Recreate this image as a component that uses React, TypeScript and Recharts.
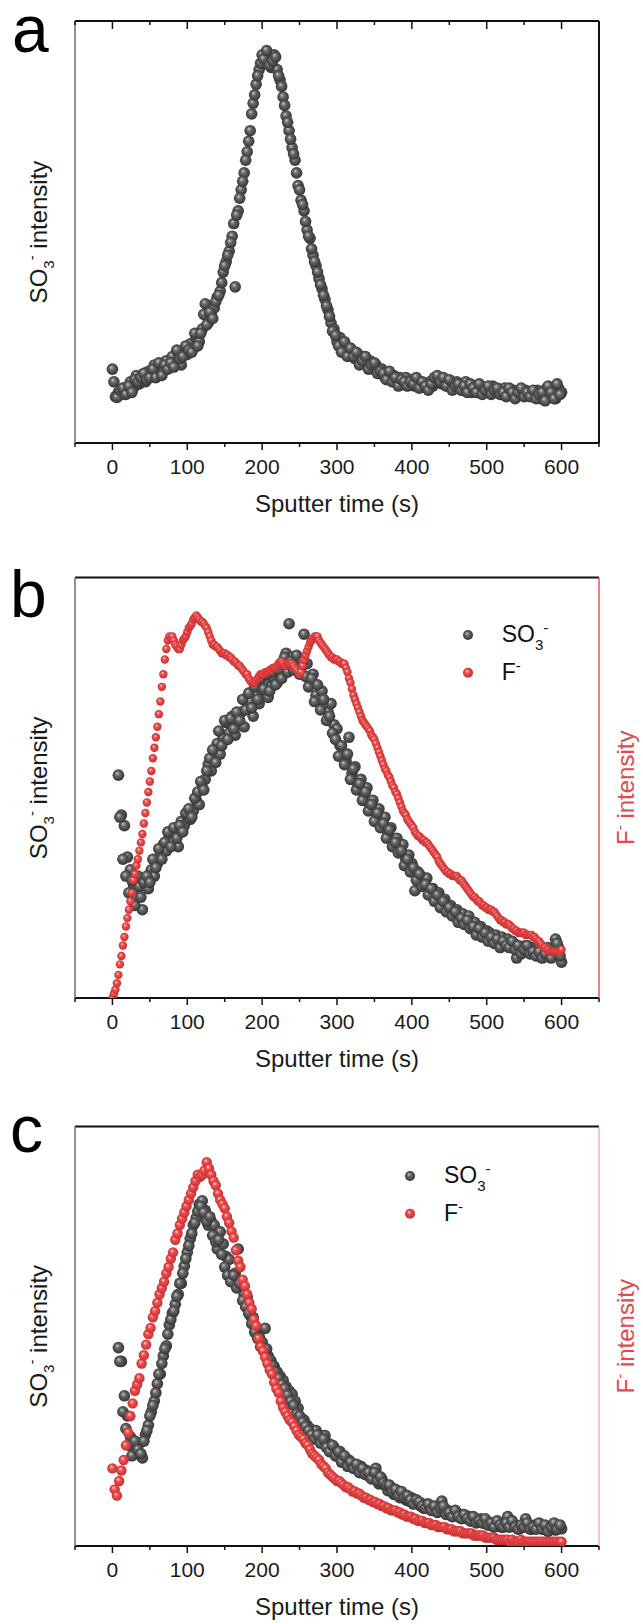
import React from 'react';
import { ScatterChart, Scatter, XAxis, YAxis, Legend } from 'recharts';

const FONT = '"Liberation Sans", Arial, Helvetica, sans-serif';
const PAGE_W = 643;
const PLOT_LEFT = 75;
const PLOT_RIGHT = 599;

const xDomain: [number, number] = [-50, 650];
const xTicks = [-50, 0, 50, 100, 150, 200, 250, 300, 350, 400, 450, 500, 550, 600, 650];
const xMajorTicks = [0, 100, 200, 300, 400, 500, 600];
const yDomain: [number, number] = [0, 100];

// ---------- Panel a : SO3- (pass 1: start 0 s, every 4 s) ----------
const aSO3Start = 0;
const aSO3Step = 4;
const aSO3 = [
  17.5, 11.0, 12.0, 11.5, 13.0, 12.5, 14.5, 13.0, 16.0, 14.0,
  15.5, 14.5, 17.0, 16.0, 18.5, 16.5, 18.0, 17.0, 19.5, 18.0,
  20.5, 19.0, 21.5, 18.5, 22.0, 21.0, 23.5, 22.5, 25.0, 24.0,
  27.0, 33.0, 28.5, 30.5, 32.0, 34.5, 36.0, 40.5, 43.0, 45.5,
  49.0, 37.0, 55.0, 60.0, 64.0, 69.0, 74.0, 80.5, 85.0, 88.5,
  92.0, 90.0, 91.0, 89.0, 92.0, 88.5, 86.0, 82.0, 77.5, 74.0,
  70.0, 67.0, 61.0, 57.5, 55.0, 50.5, 48.5, 44.5, 42.0, 39.0,
  36.5, 34.0, 31.5, 28.5, 27.0, 24.0, 25.0, 22.0, 23.0, 21.0,
  22.0, 20.0, 21.0, 19.0, 20.5, 18.5, 19.5, 17.5, 18.5, 16.5,
  17.5, 15.5, 16.5, 15.0, 16.0, 14.5, 15.5, 14.0, 15.5, 14.0,
  15.0, 13.5, 14.5, 13.5, 14.0, 13.0, 14.5, 13.5, 15.0, 15.5,
  14.0, 15.0, 13.5, 14.0, 13.0, 14.5, 13.5, 12.5, 14.5, 13.0,
  12.0, 13.5, 12.5, 13.5, 12.0, 13.0, 12.0, 13.5, 12.0, 12.5,
  11.5, 13.0, 12.5, 11.5, 12.5, 11.0, 12.0, 11.5, 12.5, 11.5,
  12.0, 11.0, 12.5, 10.5, 12.0, 13.0, 11.0, 12.5, 10.5, 13.0,
  12.0,
];
// pass 2: start 2 s, every 4 s
const aSO3bStart = 2;
const aSO3b = [
  14.5, 10.8, 12.5, 13.0, 11.5, 13.5, 12.0, 15.0, 14.5, 15.5,
  16.5, 15.0, 15.5, 17.5, 15.5, 19.0, 16.0, 18.5, 17.5, 19.0,
  18.0, 22.0, 20.0, 20.5, 23.0, 22.0, 21.5, 26.0, 23.0, 26.0,
  30.5, 28.0, 31.0, 29.5, 33.5, 35.0, 38.0, 42.0, 44.5, 47.5,
  52.0, 54.0, 58.0, 62.0, 67.0, 71.5, 78.0, 82.5, 87.0, 90.0,
  91.0, 93.0, 89.5, 90.5, 91.5, 87.0, 84.5, 80.0, 76.0, 72.0,
  68.5, 64.0, 60.0, 56.5, 52.5, 49.0, 46.0, 43.0, 40.5, 37.5,
  35.0, 32.5, 30.0, 26.5, 25.5, 23.0, 21.5, 24.0, 20.5, 22.5,
  20.5, 21.5, 18.5, 19.5, 20.5, 17.5, 18.5, 19.0, 16.5, 17.0,
  16.5, 15.0, 17.0, 14.5, 15.5, 13.5, 15.0, 14.5, 13.5, 14.5,
  14.0, 15.5, 13.0, 14.5, 13.5, 12.5, 14.0, 15.5, 16.0, 14.5,
  15.5, 13.5, 15.0, 12.5, 13.5, 14.0, 12.5, 13.5, 12.0, 14.0,
  13.0, 12.0, 14.0, 11.5, 12.5, 13.5, 11.5, 12.5, 13.0, 11.5,
  12.0, 11.0, 13.0, 12.0, 10.5, 12.0, 13.0, 11.0, 12.0, 11.0,
  12.5, 10.5, 11.5, 12.0, 10.0, 13.5, 12.0, 10.5, 14.0, 11.5,
];

// ---------- Panel b : SO3- (pass 1: start 8 s, every 4 s) ----------
const bSO3Start = 8;
const bSO3Step = 4;
const bSO3 = [
  53, 43.5, 41, 33.5, 30.5, 27, 24, 26.5, 21, 28,
  26, 30.5, 29, 32, 34, 36.5, 35, 38.5, 37, 39,
  36, 42, 41, 43.5, 42.5, 44.5, 47, 46, 50, 52,
  55.5, 54, 57, 60.5, 58, 62, 65.5, 63, 67, 62.5,
  65, 68, 64.5, 69, 70.5, 67, 72, 70, 73, 75,
  71.5, 74, 76, 75, 77, 79.5, 82, 89, 81, 79,
  80.5, 78.5, 86.5, 79.5, 75.5, 77, 72, 71, 73, 69.5,
  68, 70, 65, 64, 60, 58, 56.5, 62, 53.5, 55,
  50.5, 52, 48.5, 50, 45.5, 47, 44, 45, 41.5, 43,
  39, 40.5, 37.5, 38, 35.5, 36.5, 33, 34, 32, 25.5,
  30, 29, 27.5, 28.5, 25.5, 26, 24, 25, 22.5, 23.5,
  21, 22, 20.5, 21, 19, 20, 18.5, 19.5, 17, 18,
  16, 17, 15, 16, 15.5, 14.5, 15, 13.5, 14.5, 13,
  14, 12.5, 13, 9.5, 12, 11.5, 12.5, 11, 12, 10.5,
  11.5, 10, 11, 10.5, 11.5, 10, 14, 12, 8.5,
];
// pass 2: start 10 s, every 4 s
const bSO3bStart = 10;
const bSO3b = [
  43, 33, 29, 25, 28, 22, 29, 24, 27.5, 29,
  27.5, 33, 31, 35.5, 33, 37, 39.5, 36, 40.5, 38,
  41, 39.5, 44, 45, 43, 47.5, 49, 51.5, 49.5, 54,
  57, 59, 56, 63.5, 60, 66, 61.5, 66.5, 64, 68,
  66, 71, 68.5, 72.5, 69, 74, 71, 76, 73.5, 77,
  73, 77.5, 74.5, 78, 76, 81, 77.5, 80, 78, 81.5,
  77, 80, 76.5, 74, 76, 70.5, 74.5, 68.5, 71, 66,
  67, 63, 61.5, 57.5, 60, 55.5, 58, 52, 54.5, 49.5,
  51, 47, 49, 44.5, 46, 42, 44, 40.5, 41.5, 38,
  40, 36, 37, 34.5, 35, 31.5, 33, 30, 31, 28,
  29.5, 26.5, 27, 24.5, 26, 23, 24.5, 21.5, 23, 20.5,
  21.5, 19.5, 20.5, 18, 19, 17.5, 18.5, 16.5, 17, 15,
  16.5, 14.5, 15.5, 13.5, 14.5, 13, 14, 12, 13.5, 12.5,
  12, 13.5, 11.5, 12.5, 10.5, 11.5, 12.5, 10.5, 11, 10,
  11, 9.5, 10.5, 12, 9.5, 11.5, 13, 10,
];

// ---------- Panel b : F- (start 0 s, every 2 s) ----------
const bFStart = 0;
const bFStep = 2;
const bF = [
  0, 1, 2, 3.5, 5.5, 8, 10, 12.5, 14.5, 17,
  19, 21, 23, 25, 28, 29.5, 31.5, 33, 35, 37,
  39, 41.5, 44, 46.5, 49, 51.5, 54, 57, 59.5, 62,
  64.5, 67.5, 70.5, 74, 77, 80.5, 83, 85, 86, 85.5,
  86, 85, 84, 83.5, 83, 83, 84, 85, 85.5, 86,
  87, 88, 88.5, 89, 90, 90.5, 91, 90.5, 90, 89.5,
  89.5, 89, 88.5, 88, 87, 86, 85, 84, 84, 83.5,
  83.5, 83, 82.5, 82, 82, 82, 81.5, 81.5, 81, 81,
  80.5, 80, 80, 79.5, 79, 79, 78.5, 78, 77.5, 77,
  77, 76, 75.5, 75, 75, 75, 75.5, 76, 76.5, 77,
  77, 77, 77.5, 77.5, 77.5, 78, 78, 78.5, 78.5, 78.5,
  79, 79.5, 80, 80, 79.5, 79, 79, 79.5, 79.5, 79.5,
  79.5, 79, 78.5, 78, 77.5, 77, 77.5, 79, 80.5, 81.5,
  82.5, 83.5, 84.5, 85, 85.5, 86, 86, 86, 85, 84.5,
  84, 83.5, 83, 82.5, 82, 81.5, 81, 81, 80.5, 80.5,
  80.5, 80, 80, 79.5, 79.5, 79.5, 78.5, 77.5, 76, 75,
  73.5, 72, 71, 70, 69, 68, 67, 66, 65.5, 65,
  64.5, 64, 63.5, 62.5, 62, 61.5, 60.5, 59.5, 58.5, 57.5,
  56.5, 55.5, 54.5, 54, 53, 52.5, 51.5, 50.5, 50, 49,
  48.5, 47.5, 46.5, 45.5, 44.5, 44, 43.5, 42.5, 42, 41.5,
  41, 40.5, 39.5, 39, 38.5, 38.5, 38, 37.5, 37.5, 37,
  37, 36.5, 36, 35.5, 35, 34.5, 34, 33.5, 32.5, 32,
  31.5, 31, 30.5, 30, 30, 29.5, 29.5, 29, 29, 29,
  29, 28.5, 28, 28, 27.5, 27, 26.5, 26, 25.5, 25,
  24.5, 24, 24, 23.5, 23, 23, 22.5, 22, 22, 21.5,
  21.5, 21, 21, 21, 20.5, 20.5, 20, 19.5, 19, 18.5,
  18.5, 18, 18, 17.5, 17.5, 17.5, 17, 16.5, 16.5, 16,
  16, 15.5, 15.5, 15.5, 15.5, 15.5, 15, 15, 15, 15,
  15, 14.5, 14.5, 14, 13.5, 13.5, 13, 12.5, 12, 12,
  11.5, 11.5, 11, 11, 11, 11, 11, 11, 11, 11,
  11.5,
];

// ---------- Panel c : SO3- (pass 1: start 8 s, every 4 s) ----------
const cSO3Start = 8;
const cSO3Step = 4;
const cSO3 = [
  47.3, 44, 35.8, 31, 26, 24, 22, 24.5, 21, 26.5,
  28.8, 32, 34.6, 38.7, 41, 45.3, 47.7, 52.7, 55.5, 57.6,
  60, 62.6, 66.7, 70, 73.3, 76.5, 78.2, 81.5, 82.3, 80,
  76.5, 77.4, 76.5, 70.8, 74.9, 72, 69, 68.3, 64.2, 65,
  70.8, 62.6, 60, 59.3, 55, 54.5, 51.9, 50, 48.6, 51.9,
  45.3, 44, 42.8, 41.5, 40.5, 39.5, 38, 37, 36.2, 34.5,
  32.9, 30.5, 30, 28.8, 28, 27.2, 27.5, 26.5, 25.5, 26.3,
  24.5, 23, 23.5, 21.4, 22.5, 20.5, 19.8, 20.5, 18.9, 19.5,
  18.1, 19, 17.3, 18, 16.5, 17, 18.5, 14.8, 16, 14.5,
  13.2, 14, 12.3, 13, 11.5, 12.5, 11, 10.7, 11.5, 10.5,
  10, 9.5, 9, 10, 9, 8.5, 9, 8.2, 10.7, 8,
  8.5, 7.5, 7.4, 8, 7, 7.5, 6.6, 7, 6, 6.5,
  5.8, 6.5, 5.5, 6, 5, 5.5, 4.9, 5.5, 4.5, 5,
  7, 4.9, 5, 4.5, 4.1, 5, 6.5, 4.5, 4, 5,
  4.5, 4.9, 4, 4.5, 4.1, 4.5, 3.8, 4.5, 4.1,
];
// pass 2: start 10 s, every 4 s
const cSO3bStart = 10;
const cSO3b = [
  44, 32, 28, 24, 21.5, 25, 23, 22, 25, 27.5,
  31, 33.5, 36.5, 41, 43.5, 47, 50.5, 54, 56, 59.5,
  62.6, 65, 68.5, 71.6, 74.5, 77, 79.8, 81, 79.5, 77.4,
  78.5, 74, 72.5, 73, 69.5, 66.5, 64.5, 63, 64.5, 61.5,
  62.6, 58.5, 57, 55.5, 53, 51, 49.5, 47.5, 46.5, 47,
  44.5, 43, 41.5, 40, 38.5, 37.5, 36, 34.5, 33.5, 31.5,
  31, 29.5, 28.5, 27.5, 26.5, 25.5, 26.5, 24.5, 25.5, 23.5,
  22.5, 24, 21.5, 22.5, 20, 21.5, 19, 20, 18.5, 19.5,
  17.5, 18.5, 17, 17.5, 16, 17.5, 15.5, 16.5, 15, 14.5,
  14.5, 13, 13.5, 12, 13, 11.5, 12, 11, 10, 11,
  10.5, 9.5, 9, 10, 8.5, 9.5, 8, 9, 9.5, 7.5,
  8, 7, 8.5, 7, 6.5, 7.5, 6.5, 6, 7, 5.5,
  6, 5.5, 6.5, 5, 5.5, 4.5, 6, 5, 4.5, 5.5,
  4.5, 6, 4.5, 4, 5, 4.5, 5.5, 4, 4.5, 4,
  5.5, 4, 5, 3.5, 4.5, 5.5, 4, 5,
];

// ---------- Panel c : F- (start 0 s, every 3 s) ----------
const cFStart = 0;
const cFStep = 3;
const cF = [
  18.5, 13.5, 12, 15.5, 18, 20.5, 24, 27, 31, 34,
  37, 38.5, 40, 43.5, 45.5, 48, 50.5, 52, 54.5, 56,
  58, 60, 61.5, 63, 65, 66.5, 68.5, 70, 73, 74.5,
  76.5, 78, 79.5, 81, 82.5, 84, 85.5, 87, 88.5, 88,
  88.5, 89.5, 91.5, 90, 88.5, 87, 86, 84, 82.5, 81.5,
  80.5, 78.5, 77, 75, 73.5, 70.5, 68, 66.5, 63.5, 62,
  60, 58, 56.5, 54, 52.5, 49.5, 47.5, 46.5, 45, 43.5,
  42, 41, 39, 37.5, 36.5, 34.5, 33, 32, 31, 30,
  29.5, 28.5, 27.5, 26.5, 26, 25.5, 24.5, 24, 23, 22,
  21.5, 21, 20.5, 19.5, 19, 18.5, 17.5, 17, 16.5, 16,
  15.5, 15.5, 15, 14.5, 14, 14, 13.5, 13, 13, 12.5,
  12.5, 12, 11.5, 11.5, 11, 11, 10.5, 10.5, 10, 10,
  9.5, 9.5, 9, 9, 8.5, 8.5, 8.5, 8, 8, 7.5,
  7.5, 7, 7, 7, 6.5, 6.5, 6, 6, 6, 5.5,
  5.5, 5.5, 5, 5, 5, 4.5, 4.5, 4.5, 4.5, 4,
  4, 4, 3.5, 3.5, 3.5, 3.5, 3, 3, 3, 3,
  3, 2.5, 2.5, 2.5, 2.5, 2.5, 2, 2, 2, 2,
  2, 1.5, 1.5, 1.5, 1.5, 1.5, 1.5, 1, 1.5, 1,
  1, 1, 1.5, 1, 1, 1, 1, 1, 1, 1,
  1, 1, 1, 1, 1, 1, 1, 1, 1, 1,
  1,
];

type Pt = { t: number; v: number };
const toPoints = (start: number, step: number, values: number[]): Pt[] =>
  values.map((v, i) => ({ t: start + i * step, v }));

const aSO3Pts = [...toPoints(aSO3Start, aSO3Step, aSO3), ...toPoints(aSO3bStart, aSO3Step, aSO3b)];
const bSO3Pts = [...toPoints(bSO3Start, bSO3Step, bSO3), ...toPoints(bSO3bStart, bSO3Step, bSO3b)];
const bFPts = toPoints(bFStart, bFStep, bF);
const cSO3Pts = [...toPoints(cSO3Start, cSO3Step, cSO3), ...toPoints(cSO3bStart, cSO3Step, cSO3b)];
const cFPts = toPoints(cFStart, cFStep, cF);

const GRAY = 'url(#ballGray)';
const RED = 'url(#ballRed)';

const ball = (fill: string, r: number) => (props: any) => {
  const { cx, cy } = props;
  if (cx == null || cy == null || isNaN(cx) || isNaN(cy)) return <g />;
  return <circle cx={cx} cy={cy} r={r} fill={fill} />;
};

const BottomTick = (props: any) => {
  const { x, y, payload } = props;
  const value = payload ? payload.value : 0;
  const major = xMajorTicks.includes(value);
  return (
    <g>
      <line x1={x} x2={x} y1={y} y2={y + (major ? 7 : 4)} stroke="#111" strokeWidth={1.5} />
      {major ? (
        <text x={x} y={y + 31} textAnchor="middle" fontFamily={FONT} fontSize={21} fill="#1a1a1a">
          {value}
        </text>
      ) : null}
    </g>
  );
};

const TopTick = (props: any) => {
  const { x, y, payload } = props;
  const value = payload ? payload.value : 0;
  const major = xMajorTicks.includes(value);
  return <line x1={x} x2={x} y1={y} y2={y + (major ? 8 : 4)} stroke="#111" strokeWidth={1.5} />;
};

type PanelProps = {
  pageTop: number;
  height: number;
  plotTop: number;
  plotBottom: number;
  gray: Pt[];
  grayR: number;
  red?: Pt[];
  redR?: number;
  rightColor: string;
  rightWidth: number;
  topTicks: boolean;
  legend?: { mx: number; my: number; tx: number };
};

const AXIS_THICK = 1; // tiny axis band so recharts renders the axis

function Panel(p: PanelProps) {
  const plotMidY = (p.plotTop + p.plotBottom) / 2;
  const plotMidX = (PLOT_LEFT + PLOT_RIGHT) / 2;
  const xTitle = () => (
    <text x={plotMidX} y={p.plotBottom + 69} textAnchor="middle" fontFamily={FONT} fontSize={24} fill="#1a1a1a">
      Sputter time (s)
    </text>
  );
  const leftTitle = () => (
    <text
      transform={`translate(47, ${plotMidY}) rotate(-90)`}
      textAnchor="middle"
      fontFamily={FONT}
      fontSize={24}
      fill="#1a1a1a"
    >
      SO
      <tspan fontSize={15} dy={7}>3</tspan>
      <tspan fontSize={15} dy={-17}>-</tspan>
      <tspan fontSize={24} dy={10}> intensity</tspan>
    </text>
  );
  const rightTitle = () => (
    <text
      transform={`translate(634, ${plotMidY}) rotate(-90)`}
      textAnchor="middle"
      fontFamily={FONT}
      fontSize={24}
      fill="#e5484d"
    >
      F
      <tspan fontSize={15} dy={-9}>-</tspan>
      <tspan fontSize={24} dy={9}> intensity</tspan>
    </text>
  );
  const lg = p.legend;
  const legendContent = () =>
    lg ? (
      <svg width={180} height={80} style={{ overflow: 'visible', display: 'block' }}>
        <circle cx={12} cy={20} r={5} fill={GRAY} />
        <text x={12 + (lg.tx - lg.mx)} y={27} fontFamily={FONT} fontSize={23} fill="#111">
          SO
          <tspan fontSize={15} dy={8}>3</tspan>
          <tspan fontSize={15} dy={-17.5}>-</tspan>
        </text>
        <circle cx={12} cy={57.7} r={5} fill={RED} />
        <text x={12 + (lg.tx - lg.mx)} y={65.2} fontFamily={FONT} fontSize={23} fill="#111">
          F
          <tspan fontSize={15} dy={-9}>-</tspan>
        </text>
      </svg>
    ) : null;

  return (
    <div style={{ position: 'absolute', left: 0, top: p.pageTop }}>
      <ScatterChart
        width={PAGE_W}
        height={p.height}
        margin={{
          top: p.plotTop - AXIS_THICK,
          bottom: p.height - p.plotBottom - AXIS_THICK,
          left: PLOT_LEFT - AXIS_THICK,
          right: PAGE_W - PLOT_RIGHT - AXIS_THICK,
        }}
      >
        <XAxis
          xAxisId="bottom"
          type="number"
          dataKey="t"
          domain={xDomain}
          ticks={xTicks}
          interval={0}
          allowDataOverflow
          height={AXIS_THICK}
          tickSize={0}
          tickMargin={0}
          tickLine={false}
          axisLine={{ stroke: '#111', strokeWidth: 2 }}
          tick={(tp: any) => <BottomTick {...tp} />}
          label={xTitle}
        />
        <XAxis
          xAxisId="top"
          orientation="top"
          type="number"
          dataKey="t"
          domain={xDomain}
          ticks={xTicks}
          interval={0}
          allowDataOverflow
          height={AXIS_THICK}
          tickSize={0}
          tickMargin={0}
          tickLine={false}
          axisLine={{ stroke: '#111', strokeWidth: 2 }}
          tick={p.topTicks ? (tp: any) => <TopTick {...tp} /> : false}
        />
        <YAxis
          yAxisId="left"
          type="number"
          dataKey="v"
          domain={yDomain}
          allowDataOverflow
          width={AXIS_THICK}
          tick={false}
          tickLine={false}
          axisLine={{ stroke: '#6e6e6e', strokeWidth: 1.5 }}
          label={leftTitle}
        />
        <YAxis
          yAxisId="right"
          orientation="right"
          type="number"
          dataKey="v"
          domain={yDomain}
          allowDataOverflow
          width={AXIS_THICK}
          tick={false}
          tickLine={false}
          axisLine={{ stroke: p.rightColor, strokeWidth: p.rightWidth }}
          label={p.red ? rightTitle : undefined}
        />
        {lg ? (
          <Legend
            layout="vertical"
            align="center"
            verticalAlign="middle"
            wrapperStyle={{ position: 'absolute', left: lg.mx - 12, top: lg.my - 20, width: 180, height: 80 }}
            content={legendContent}
          />
        ) : null}
        <Scatter
          name="SO3-"
          data={p.gray}
          xAxisId="bottom"
          yAxisId="left"
          dataKey="v"
          shape={ball(GRAY, p.grayR)}
          isAnimationActive={false}
        />
        {p.red ? (
          <Scatter
            name="F-"
            data={p.red}
            xAxisId="bottom"
            yAxisId="right"
            dataKey="v"
            shape={ball(RED, p.redR || 4)}
            isAnimationActive={false}
          />
        ) : null}
      </ScatterChart>
    </div>
  );
}

export default function App() {
  return (
    <div style={{ position: 'absolute', left: 0, top: 0, width: PAGE_W, height: 1624, background: '#fff' }}>
      <svg width={0} height={0} style={{ position: 'absolute' }}>
        <defs>
          <radialGradient id="ballGray" cx="0.5" cy="0.5" r="0.55" fx="0.38" fy="0.32">
            <stop offset="0%" stopColor="#c8c8c8" />
            <stop offset="35%" stopColor="#6a6a6a" />
            <stop offset="100%" stopColor="#2c2c2c" />
          </radialGradient>
          <radialGradient id="ballRed" cx="0.5" cy="0.5" r="0.55" fx="0.38" fy="0.32">
            <stop offset="0%" stopColor="#ffd6d6" />
            <stop offset="35%" stopColor="#ee5252" />
            <stop offset="100%" stopColor="#c42828" />
          </radialGradient>
        </defs>
      </svg>
      <Panel
        pageTop={0}
        height={540}
        plotTop={21}
        plotBottom={443}
        gray={aSO3Pts}
        grayR={5.8}
        rightColor="#111"
        rightWidth={2}
        topTicks={true}
      />
      <Panel
        pageTop={540}
        height={550}
        plotTop={37.5}
        plotBottom={458}
        gray={bSO3Pts}
        grayR={5.8}
        red={bFPts}
        redR={4.2}
        rightColor="#e0575b"
        rightWidth={1.5}
        topTicks={false}
        legend={{ mx: 468, my: 95, tx: 501.7 }}
      />
      <Panel
        pageTop={1090}
        height={534}
        plotTop={36.5}
        plotBottom={456}
        gray={cSO3Pts}
        grayR={5.8}
        red={cFPts}
        redR={5.2}
        rightColor="#f0a0a2"
        rightWidth={1.2}
        topTicks={false}
        legend={{ mx: 410, my: 85.5, tx: 444 }}
      />
      <svg width={PAGE_W} height={1624} style={{ position: 'absolute', left: 0, top: 0, pointerEvents: 'none' }}>
        <text x={12} y={52} fontFamily={FONT} fontSize={66} fill="#000">a</text>
        <text x={10} y={617} fontFamily={FONT} fontSize={66} fill="#000">b</text>
        <text x={10} y={1152} fontFamily={FONT} fontSize={66} fill="#000">c</text>
      </svg>
    </div>
  );
}
